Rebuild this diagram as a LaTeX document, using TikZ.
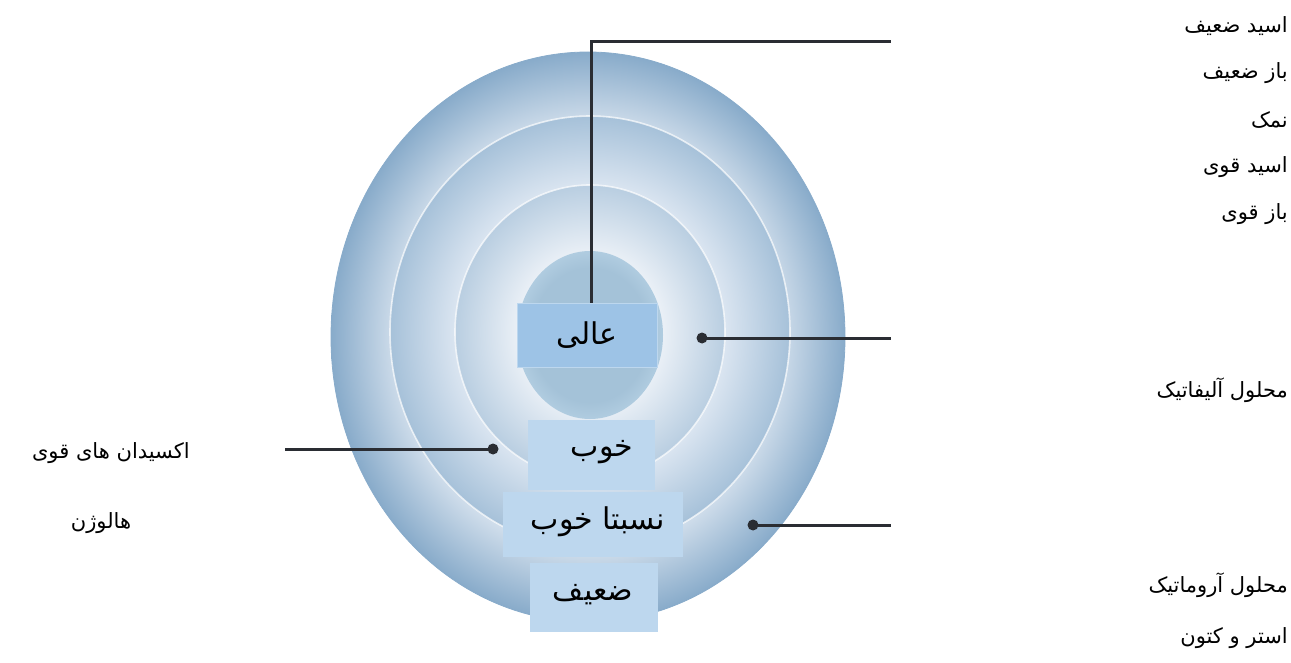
\documentclass[tikz,border=0pt]{standalone}
\usepackage{fontspec}
\newfontfamily\fa[Script=Arabic]{DejaVu Sans}
\TeXXeTstate=1
\newcommand{\rtl}[1]{{\fa\beginR #1\endR}}
\definecolor{boxa}{HTML}{9DC3E6}
\definecolor{boxb}{HTML}{BDD7EE}
\definecolor{lightA}{HTML}{E3EBF4}
\definecolor{darkA}{HTML}{88ABCA}
\definecolor{lightB}{HTML}{E6EDF6}
\definecolor{darkB}{HTML}{A6C1D9}
\definecolor{lightC}{HTML}{F0F4F9}
\definecolor{darkC}{HTML}{B9CEE1}
\definecolor{coreA}{HTML}{B0CCE0}
\definecolor{coreB}{HTML}{A4C2D8}
\definecolor{linec}{HTML}{2A2D33}
\pgfdeclareradialshading{ringA}{\pgfpoint{0bp}{0bp}}{color(0bp)=(lightA); color(17bp)=(lightA); color(25bp)=(darkA); color(50bp)=(darkA)}
\pgfdeclareradialshading{ringB}{\pgfpoint{0bp}{0bp}}{color(0bp)=(lightB); color(15bp)=(lightB); color(25bp)=(darkB); color(50bp)=(darkB)}
\pgfdeclareradialshading{ringC}{\pgfpoint{0bp}{0bp}}{color(0bp)=(lightC); color(12bp)=(lightC); color(25bp)=(darkC); color(50bp)=(darkC)}
\pgfdeclareradialshading{coreS}{\pgfpoint{0bp}{0bp}}{color(0bp)=(coreB); color(20bp)=(coreB); color(25bp)=(coreA); color(50bp)=(coreA)}
\tikzset{
  lbl/.style={anchor=east, inner sep=0pt, font=\fontsize{21}{25}\selectfont},
  lbll/.style={inner sep=0pt, font=\fontsize{21}{25}\selectfont},
  boxnode/.style={inner sep=0pt, font=\fontsize{30}{36}\selectfont},
  conn/.style={draw=linec, line width=3pt},
  dotn/.style={circle, fill=linec, inner sep=0pt, minimum size=11pt},
  rimline/.style={draw=white, line width=1.6pt, draw opacity=0.7}
}
\begin{document}
\begin{tikzpicture}[x=1pt, y=-1pt]
\useasboundingbox (0,0) rectangle (1291,663);
% rings
\shade[shading=ringA, draw=darkA, line width=0.8pt] (588,337) ellipse [x radius=257, y radius=285];
\shade[shading=ringB, rimline] (590,332) ellipse [x radius=200, y radius=216];
\shade[shading=ringC, rimline] (590,332) ellipse [x radius=135, y radius=147];
\shade[shading=coreS] (590,335) ellipse [x radius=73, y radius=84];
% connector end points
\coordinate (corner) at (591,42);
\coordinate (endTop) at (891,42);
\coordinate (endMid) at (891,338);
\coordinate (endLow) at (891,525);
\coordinate (endLeft) at (285,449);
\node[dotn] (dotMid) at (702,338) {};
\node[dotn] (dotLow) at (753,525) {};
\node[dotn] (dotLeft) at (493,449) {};
% boxes
\node[boxnode, fill=boxa, draw=boxb, line width=1pt, minimum width=140pt, minimum height=64pt] (high) at (587,335) {};
\node[boxnode, fill=boxb, minimum width=127pt, minimum height=70pt] (good) at (591.5,455) {};
\node[boxnode, fill=boxb, minimum width=180pt, minimum height=65pt] (fair) at (593,524.5) {};
\node[boxnode, fill=boxb, minimum width=128pt, minimum height=69pt] (weak) at (594,597.5) {};
% connectors
\draw[conn] (high.north -| corner) -- (corner) -- (endTop);
\draw[conn] (dotMid.center) -- (endMid);
\draw[conn] (dotLow.center) -- (endLow);
\draw[conn] (dotLeft.center) -- (endLeft);
% box texts
\node[boxnode] (highT) at (587,335) {\rtl{عالی}};
\node[boxnode] (goodT) at (602,452) {\rtl{خوب}};
\node[boxnode] (fairT) at (598,522) {\rtl{نسبتا خوب}};
\node[boxnode] (weakT) at (593,595) {\rtl{ضعیف}};
% right labels
\node[lbl] (r1) at (1288,26) {\rtl{اسید ضعیف}};
\node[lbl] (r2) at (1288,73) {\rtl{باز ضعیف}};
\node[lbl] (r3) at (1288,120) {\rtl{نمک}};
\node[lbl] (r4) at (1288,167) {\rtl{اسید قوی}};
\node[lbl] (r5) at (1288,214) {\rtl{باز قوی}};
\node[lbl] (r6) at (1288,390) {\rtl{محلول آلیفاتیک}};
\node[lbl] (r7) at (1288,585) {\rtl{محلول آروماتیک}};
\node[lbl] (r8) at (1288,638) {\rtl{استر و کتون}};
% left labels
\node[lbll, anchor=east] (l1) at (190,453) {\rtl{اکسیدان های قوی}};
\node[lbll] (l2) at (101,523) {\rtl{هالوژن}};
\end{tikzpicture}
\end{document}
